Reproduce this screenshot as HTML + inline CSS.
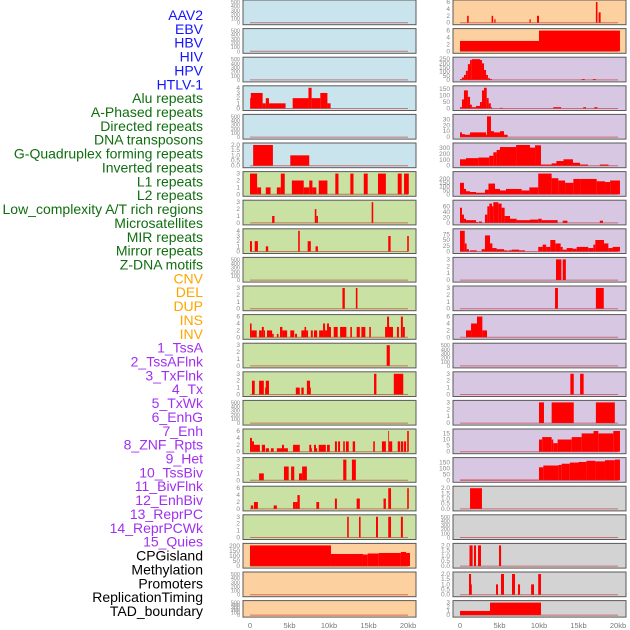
<!DOCTYPE html>
<html><head><meta charset="utf-8"><style>
body{margin:0;background:#fff;width:630px;height:630px;overflow:hidden}
svg{display:block}
</style></head><body>
<svg id="chart" width="630" height="630" xmlns="http://www.w3.org/2000/svg" font-family="Liberation Sans, sans-serif"></svg>
<script>
const trackLabels = ["AAV2","EBV","HBV","HIV","HPV","HTLV-1","Alu repeats","A-Phased repeats","Directed repeats","DNA transposons","G-Quadruplex forming repeats","Inverted repeats","L1 repeats","L2 repeats","Low_complexity A/T rich regions","Microsatellites","MIR repeats","Mirror repeats","Z-DNA motifs","CNV","DEL","DUP","INS","INV","1_TssA","2_TssAFlnk","3_TxFlnk","4_Tx","5_TxWk","6_EnhG","7_Enh","8_ZNF_Rpts","9_Het","10_TssBiv","11_BivFlnk","12_EnhBiv","13_ReprPC","14_ReprPCWk","15_Quies","CPGisland","Methylation","Promoters","ReplicationTiming","TAD_boundary"];
const labelColors = ["#1414ff","#1414ff","#1414ff","#1414ff","#1414ff","#1414ff","#0f6e0f","#0f6e0f","#0f6e0f","#0f6e0f","#0f6e0f","#0f6e0f","#0f6e0f","#0f6e0f","#0f6e0f","#0f6e0f","#0f6e0f","#0f6e0f","#0f6e0f","#ffa500","#ffa500","#ffa500","#ffa500","#ffa500","#a030f0","#a030f0","#a030f0","#a030f0","#a030f0","#a030f0","#a030f0","#a030f0","#a030f0","#a030f0","#a030f0","#a030f0","#a030f0","#a030f0","#a030f0","#000","#000","#000","#000","#000"];
const xTicks = [0,5,10,15,20];
const xTickLabels = ["0","5kb","10kb","15kb","20kb"];
// panel data: [startKb, endKb, value]
const leftData = [
 [],[],[],
 [[0,0.1,2],[0.1,1.6,3],[1.6,2.0,1],[2.0,2.4,2],[2.4,4.5,1],[5.4,7.4,2],[7.4,7.8,4],[7.8,8.9,2],[8.9,9.8,3],[9.8,10.2,1]],
 [],
 [[0.4,2.9,2],[5.1,7.5,1]],
 [[0,0.9,3],[0.9,1.4,1],[2.0,2.6,1],[3.4,3.9,1],[3.9,4.4,3],[5.3,6.8,2],[6.8,7.5,1],[7.5,7.9,2],[7.9,8.4,1],[8.7,9.8,2],[10.8,11.2,3],[12.7,13.1,3],[14.4,14.9,3],[16.2,17.2,3],[18.7,19.2,3],[19.5,20.1,3]],
 [[2.8,3.1,1],[8.2,8.4,2],[8.4,8.6,1],[15.4,15.6,3]],
 [[0,0.25,2],[0.6,1.0,2],[2.0,2.3,1],[6.1,6.3,4],[7.3,7.7,2],[8.3,8.6,1],[17.5,17.8,3],[19.9,20.1,3]],
 [],
 [[11.7,12.0,3],[13.4,13.6,3]],
 [[0,0.2,4],[0.2,0.85,2],[1.15,1.5,2],[1.5,1.75,3],[1.75,1.9,2],[2.15,2.8,2],[2.8,3.0,1],[3.4,3.6,1],[3.8,4.1,3],[4.1,4.7,2],[5.1,5.6,2],[5.7,5.95,1],[6.5,6.9,2],[6.9,7.1,3],[7.1,7.35,2],[7.7,7.95,2],[8.1,8.5,2],[8.75,9.25,2],[9.25,9.5,4],[9.5,9.75,2],[9.75,10.0,4],[10.0,10.25,3],[10.6,11.1,3],[11.4,12.2,3],[12.7,12.9,3],[13.5,13.9,3],[14.1,14.6,3],[15.1,15.3,3],[17.1,17.35,3],[17.35,17.6,6],[17.6,18.1,3],[18.6,18.85,3],[19.1,19.35,6],[19.35,19.6,3]],
 [[17.3,17.7,3]],
 [[0.25,0.6,2],[1.15,1.75,2],[1.9,2.0,1],[2.0,2.4,2],[5.8,6.3,1],[6.5,6.8,1],[7.2,7.6,2],[7.6,7.7,1],[15.7,16.0,3],[18.2,19.4,3]],
 [],
 [[0,0.25,4],[0.25,0.5,3],[0.5,1.25,2],[1.5,1.9,2],[2.0,2.4,1],[2.65,3.0,1],[3.4,4.05,1],[4.05,4.3,2],[4.3,4.8,1],[5.45,6.3,2],[7.5,7.75,2],[7.75,7.85,1],[8.1,8.35,2],[8.35,8.5,1],[8.7,9.6,2],[9.75,10.1,2],[10.75,11.0,3],[11.15,11.4,3],[11.8,12.0,3],[12.15,12.5,3],[13.0,13.3,3],[15.6,15.8,3],[16.7,17.2,3],[17.5,17.6,6],[17.6,18.0,3],[18.7,19.0,3],[19.1,19.4,3],[19.5,19.75,3],[19.9,20.1,6]],
 [[1.15,1.75,1],[4.3,4.9,2],[5.2,5.6,2],[6.2,6.6,1],[6.6,7.2,2],[11.8,12.2,3],[12.9,13.4,3]],
 [[0.1,0.4,1],[0.5,1.0,2],[3.0,3.4,1],[5.45,5.8,2],[5.8,6.0,2],[6.0,6.3,4],[8.4,8.75,2],[10.75,11.0,3],[13.5,13.9,3],[16.9,17.2,3],[17.5,17.85,6],[19.9,20.1,6]],
 [[12.3,12.5,3],[13.8,14.0,3],[15.95,16.2,3],[17.5,17.85,3],[19.1,19.35,3]],
 [[0,10.25,205],[10.25,14.3,120],[14.3,14.9,115],[14.9,16.3,125],[16.3,19.1,130],[19.1,19.75,140],[19.75,20.25,130]],
 [],[]
];
const rightData = [
 [[0.9,1.1,2],[4.0,4.2,2],[4.35,4.5,1],[8.8,8.95,1],[9.75,10.0,2],[17.2,17.4,6],[17.55,17.8,3]],
 [[0,10.0,3],[10.0,20.25,6]],
 [[0,0.25,10],[0.25,0.5,30],[0.5,0.75,60],[0.75,1.0,110],[1.0,1.27,190],[1.27,1.5,240],[1.5,2.53,250],[2.53,2.78,240],[2.78,3.04,200],[3.04,3.3,120],[3.3,3.54,60],[3.54,3.8,20],[3.8,4.05,10],[15.4,15.8,10],[16.8,17.2,10]],
 [[0,0.25,10],[0.25,0.5,70],[0.5,1.0,140],[1.0,1.27,90],[1.27,1.5,30],[1.5,2.03,10],[2.03,2.53,20],[2.53,2.78,50],[2.78,3.04,140],[3.04,3.38,160],[3.38,3.63,80],[3.63,3.9,40],[3.9,4.05,10],[5.06,5.4,5],[11.8,12.8,10],[15.6,15.95,10],[17.0,17.4,10]],
 [[0,0.25,8],[0.25,0.63,5],[0.63,1.27,4],[1.27,3.3,8],[3.3,3.42,4],[3.42,3.92,35],[3.92,4.3,10],[4.3,5.06,8],[5.06,5.57,10],[5.57,6.03,4]],
 [[0,0.76,110],[0.76,2.32,130],[2.32,3.7,140],[3.7,4.22,170],[4.22,4.64,230],[4.64,5.06,270],[5.06,7.1,320],[7.1,8.86,355],[8.86,9.5,310],[9.5,10.25,350],[10.25,11.6,20],[11.6,12.2,40],[12.2,13.1,80],[13.1,14.3,110],[14.3,15.2,50],[15.2,16.2,20],[17.7,18.8,20]],
 [[0,0.5,150],[0.5,0.76,70],[0.76,1.27,40],[1.27,2.03,30],[2.03,3.16,20],[3.16,3.6,60],[3.6,4.43,140],[4.43,5.06,70],[5.06,5.82,50],[5.82,7.8,70],[7.8,8.78,50],[8.78,9.9,90],[9.9,11.6,270],[11.6,12.45,210],[12.45,13.3,180],[13.3,14.35,150],[14.35,15.2,200],[15.2,17.3,200],[17.3,18.35,170],[18.35,19.0,160],[19.0,20.25,180]],
 [[0,0.25,55],[0.25,0.5,30],[0.5,0.76,15],[0.76,2.03,10],[2.03,2.32,3],[2.4,2.78,5],[3.16,3.46,30],[3.46,3.71,60],[3.71,4.05,70],[4.05,4.22,60],[4.22,4.85,75],[4.85,5.27,70],[5.27,5.65,55],[5.65,6.33,25],[6.33,7.17,15],[7.17,8.86,10],[8.86,9.9,12],[9.9,10.34,15],[10.34,12.36,10],[13.0,13.6,8],[17.7,18.1,8]],
 [[0,0.6,90],[0.6,0.84,35],[0.84,1.14,10],[1.27,2.11,5],[2.74,3.16,10],[3.16,3.8,70],[3.8,4.1,35],[4.1,4.64,15],[4.64,5.57,10],[5.57,6.0,5],[6.12,6.54,5],[6.54,7.5,8],[7.5,8.23,5],[9.9,10.46,20],[10.46,10.9,30],[10.9,11.43,20],[11.43,12.07,50],[12.07,12.74,35],[12.74,13.0,20],[13.0,13.5,8],[13.5,14.26,15],[14.26,14.77,12],[14.77,16.24,20],[16.24,16.88,15],[16.88,17.13,30],[17.13,18.23,50],[18.23,18.78,35],[18.78,19.32,15],[19.32,20.25,20]],
 [[12.15,12.83,3],[13.0,13.4,3]],
 [[12.03,12.4,3],[17.2,18.2,3]],
 [[0.76,1.4,2],[1.4,2.15,4],[2.15,2.83,6],[2.83,3.42,2]],
 [],
 [[13.97,14.4,3],[15.2,15.65,3]],
 [[10.0,10.63,3],[11.6,14.4,3],[17.2,19.6,3]],
 [[10.0,10.4,10],[10.4,11.6,12],[11.6,11.8,10],[11.8,12.36,7],[12.36,14.14,10],[14.14,15.4,12],[15.4,16.9,15],[16.9,17.5,17],[17.5,19.4,15],[19.4,20.25,17]],
 [[0,10.0,5],[10.0,10.55,110],[10.55,12.45,125],[12.45,12.87,130],[12.87,13.9,140],[13.9,15.0,150],[15.0,16.0,155],[16.0,17.1,165],[17.1,18.35,160],[18.35,19.6,170],[19.6,20.25,175]],
 [[1.27,2.78,2]],
 [],
 [[1.2,1.6,2],[1.77,2.03,2],[2.28,2.66,2],[4.94,5.2,2]],
 [[1.14,1.4,2],[1.4,1.5,1],[4.56,4.81,1],[5.19,5.57,2],[6.58,6.96,2],[7.34,7.6,1],[9.0,9.37,1],[9.9,10.25,2]],
 [[0,3.8,1],[3.8,10.25,3]]
];
const leftTicks = [500,500,500,4,500,2,3,3,4,500,3,6,3,3,500,6,3,6,3,200,500,500];
const rightTicks = [6,6,250,150,30,300,200,60,75,3,3,6,500,3,3,15,150,2,500,2,2,3];
const leftFills = ["#c9e4ec","#c9e4ec","#c9e4ec","#c9e4ec","#c9e4ec","#c9e4ec","#c9e1a3","#c9e1a3","#c9e1a3","#c9e1a3","#c9e1a3","#c9e1a3","#c9e1a3","#c9e1a3","#c9e1a3","#c9e1a3","#c9e1a3","#c9e1a3","#c9e1a3","#fdd09f","#fdd09f","#fdd09f"];
const rightFills = ["#fdd09f","#fdd09f","#d7c7e3","#d7c7e3","#d7c7e3","#d7c7e3","#d7c7e3","#d7c7e3","#d7c7e3","#d7c7e3","#d7c7e3","#d7c7e3","#d7c7e3","#d7c7e3","#d7c7e3","#d7c7e3","#d7c7e3","#d3d3d3","#d3d3d3","#d3d3d3","#d3d3d3","#d3d3d3"];

const NS="http://www.w3.org/2000/svg";
const svg=document.getElementById('chart');
function mk(tag,attrs,parent){const e=document.createElementNS(NS,tag);for(const k in attrs)e.setAttribute(k,attrs[k]);(parent||svg).appendChild(e);return e;}

trackLabels.forEach((t,i)=>{
  const e=mk('text',{x:203,y:20+i*13.86,'text-anchor':'end','font-size':14,fill:labelColors[i]});
  
  
  e.textContent=t;
});

function tickStep(m){return {500:100,4:1,2:0.5,3:1,6:2,200:50,250:50,150:50,30:10,300:100,60:20,75:25,15:5}[m];}

function drawPanel(col,r,data,tmax,fill){
  const px0=col===0?243:453, pw=173;
  const x0=col===0?250:460;
  const top=r*28.6, h=r===21?16.5:24.7;
  const g=mk('g',{});
  
  
  const bg=mk('rect',{x:px0,y:top,width:pw,height:h,fill:fill,stroke:'#5a5a5a','stroke-width':1},g);
  
  
  const step=tickStep(tmax);
  let dmax=0;data.forEach(d=>{if(d[2]>dmax)dmax=d[2];});
  const ymax=Math.max(tmax,dmax);
  const yb=top+h-2, yt=top+2;
  const xs=kb=>x0+kb*7.9;
  const ys=v=>yb-(v/ymax)*(yb-yt);
  const dec=step<1;
  for(let v=0;v<=tmax+1e-9;v+=step){
    const tx=mk('text',{x:px0-3,y:ys(v)+2,'text-anchor':'end','font-size':(tmax===500?5.5:6.5),fill:'#888'},g);
    
    
    tx.textContent=dec?v.toFixed(1):String(v);
  }
  data.forEach(d=>{
    const b=mk('rect',{x:xs(d[0]),y:ys(d[2]),width:Math.max(0.8,xs(d[1])-xs(d[0])),height:yb-ys(d[2]),fill:'#ff0000'},g);
    
    
  });
  const bl=mk('line',{x1:xs(0),x2:xs(20),y1:yb,y2:yb,stroke:'#c03030','stroke-width':1,opacity:0.6},g);
  
  
}
for(let r=0;r<22;r++){
  drawPanel(0,r,leftData[r],leftTicks[r],leftFills[r]);
  drawPanel(1,r,rightData[r],rightTicks[r],rightFills[r]);
}
[250,460].forEach(x0=>{
  xTicks.forEach((t,i)=>{
    const e=mk('text',{x:x0+t*7.9,y:628,'text-anchor':'middle','font-size':7.5,fill:'#777'});
    
    
    e.textContent=xTickLabels[i];
  });
});
</script>
</body></html>
